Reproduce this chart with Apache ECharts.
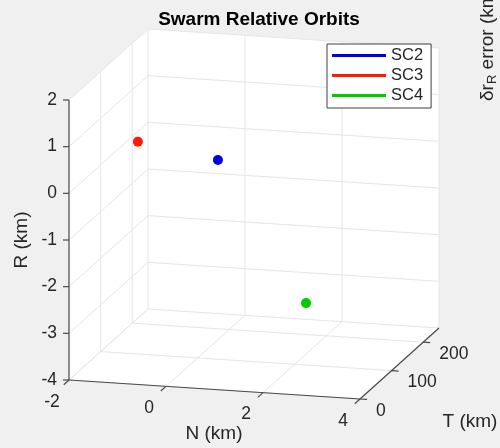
<!DOCTYPE html>
<html>
<head>
<meta charset="utf-8">
<script src="https://cdn.jsdelivr.net/npm/echarts@6/dist/echarts.min.js"></script>
<style>
  html, body { margin: 0; padding: 0; background: #f0f0f0; }
  #chart { width: 500px; height: 448px; }
</style>
</head>
<body>
<div id="chart"></div>
<script>
// axis ranges and ticks (N, T, R in km)
const N_RANGE = [-2, 4];
const T_RANGE = [0, 250];
const R_RANGE = [-4, 2];
const N_TICKS = [-2, 0, 2, 4];
const T_TICKS = [0, 100, 200];
const R_TICKS = [-4, -3, -2, -1, 0, 1, 2];

// spacecraft positions [N, T, R]
const names = ['SC2', 'SC3', 'SC4'];
const sc2 = [0.81, 40, 0.66];
const sc3 = [-0.71, 20, 1.07];
const sc4 = [1.91, 150, -3.0];
const colors = ['#0000e6', '#ff1a00', '#00cc00'];

const FONT = '"Liberation Sans", Arial, sans-serif';
const TXT = '#262626';

// view: pixel origin of (Nmin,Tmin,Rmin) and the screen vector of each full axis
const O = [69, 380];
const VN = [291, 19];
const VT = [79, -71];
const VR = [0, -280];

function proj(n, t, r) {
  const a = (n - N_RANGE[0]) / (N_RANGE[1] - N_RANGE[0]);
  const b = (t - T_RANGE[0]) / (T_RANGE[1] - T_RANGE[0]);
  const c = (r - R_RANGE[0]) / (R_RANGE[1] - R_RANGE[0]);
  return [O[0] + a * VN[0] + b * VT[0] + c * VR[0],
          O[1] + a * VN[1] + b * VT[1] + c * VR[1]];
}

function line(p, q, color, w) {
  return { type: 'line', shape: { x1: p[0], y1: p[1], x2: q[0], y2: q[1] },
           style: { stroke: color, lineWidth: w } };
}
function text(s, x, y, align, valign, size, extra) {
  return Object.assign({ type: 'text', x: x, y: y,
    style: { text: s, align: align, verticalAlign: valign, fill: TXT,
             fontSize: size, fontFamily: FONT } }, extra || {});
}

function renderFrame() {
  const [n0, n1] = N_RANGE, [t0, t1] = T_RANGE, [r0, r1] = R_RANGE;
  const kids = [];
  kids.push({ type: 'polygon', shape: { points: [
    proj(n0, t0, r1), proj(n0, t0, r0), proj(n1, t0, r0),
    proj(n1, t1, r0), proj(n1, t1, r1), proj(n0, t1, r1)] },
    style: { fill: '#ffffff' } });
  const G = '#e6e6e6';
  // back wall
  N_TICKS.forEach(n => kids.push(line(proj(n, t1, r0), proj(n, t1, r1), G, 1)));
  R_TICKS.forEach(r => kids.push(line(proj(n0, t1, r), proj(n1, t1, r), G, 1)));
  // left wall
  T_TICKS.forEach(t => kids.push(line(proj(n0, t, r0), proj(n0, t, r1), G, 1)));
  R_TICKS.forEach(r => kids.push(line(proj(n0, t0, r), proj(n0, t1, r), G, 1)));
  // floor
  N_TICKS.forEach(n => kids.push(line(proj(n, t0, r0), proj(n, t1, r0), G, 1)));
  T_TICKS.forEach(t => kids.push(line(proj(n0, t, r0), proj(n1, t, r0), G, 1)));
  // axis lines
  const A = '#4a4a4a';
  kids.push(line(proj(n0, t0, r0), proj(n0, t0, r1), A, 1.2));
  kids.push(line(proj(n0, t0, r0), proj(n1, t0, r0), A, 1.2));
  kids.push(line(proj(n1, t0, r0), proj(n1, t1, r0), A, 1.2));
  // R ticks and labels
  R_TICKS.forEach(r => {
    const p = proj(n0, t0, r);
    kids.push(line([p[0] - 6, p[1]], p, A, 1.2));
    kids.push(text(String(r), p[0] - 12, p[1], 'right', 'middle', 17.5));
  });
  // N ticks and labels
  const tl = Math.hypot(VT[0], VT[1]);
  N_TICKS.forEach(n => {
    const p = proj(n, t0, r0);
    kids.push(line(p, [p[0] - VT[0] / tl * 7, p[1] - VT[1] / tl * 7], A, 1.2));
    kids.push(text(String(n), p[0] - 17, p[1] + 22, 'center', 'middle', 17.5));
  });
  // T ticks and labels
  const nl = Math.hypot(VN[0], VN[1]);
  T_TICKS.forEach(t => {
    const p = proj(n1, t, r0);
    kids.push(line(p, [p[0] + VN[0] / nl * 7, p[1] + VN[1] / nl * 7], A, 1.2));
    kids.push(text(String(t), p[0] + 16, p[1] + 12, 'left', 'middle', 17.5));
  });
  // axis names
  kids.push(text('R (km)', 22, 240, 'center', 'middle', 19, { rotation: Math.PI / 2 }));
  kids.push(text('N (km)', 214, 434, 'center', 'middle', 19));
  kids.push(text('T (km)', 470, 422, 'center', 'middle', 19));
  // clipped label of neighbouring panel
  kids.push({ type: 'text', x: 488, y: 101, rotation: Math.PI / 2,
    style: { text: 'δr{s|R} error (km)', align: 'left', verticalAlign: 'middle',
             fill: TXT, fontSize: 19, fontFamily: FONT,
             rich: { s: { fontSize: 13, fill: TXT, fontFamily: FONT, padding: [8, 0, 0, 0] } } } });
  return { type: 'group', children: kids };
}

function pointSeries(name, pos, color) {
  return {
    type: 'custom', name: name, coordinateSystem: 'none',
    data: [pos], itemStyle: { color: color },
    renderItem: function (params, api) {
      const p = proj(api.value(0), api.value(1), api.value(2));
      return { type: 'circle', shape: { cx: p[0], cy: p[1], r: 5 },
               style: { fill: color } };
    }
  };
}

const chart = echarts.init(document.getElementById('chart'));
chart.setOption({
  backgroundColor: '#f0f0f0',
  animation: false,
  title: {
    text: 'Swarm Relative Orbits', left: 254, top: 5, textAlign: 'center',
    textStyle: { fontSize: 19, fontWeight: 'bold', color: '#000', fontFamily: FONT }
  },
  legend: {
    data: names, orient: 'vertical', left: 327, top: 44,
    icon: 'rect', itemWidth: 54, itemHeight: 3, itemGap: 3,
    padding: [3, 8, 4, 5], borderColor: '#404040', borderWidth: 1,
    backgroundColor: '#ffffff', selectedMode: false,
    textStyle: { fontSize: 16.5, color: TXT, fontFamily: FONT }
  },
  series: [
    { type: 'custom', name: 'frame', coordinateSystem: 'none', silent: true,
      data: [[0]], renderItem: renderFrame },
    pointSeries(names[0], sc2, colors[0]),
    pointSeries(names[1], sc3, colors[1]),
    pointSeries(names[2], sc4, colors[2])
  ]
});
</script>
</body>
</html>
